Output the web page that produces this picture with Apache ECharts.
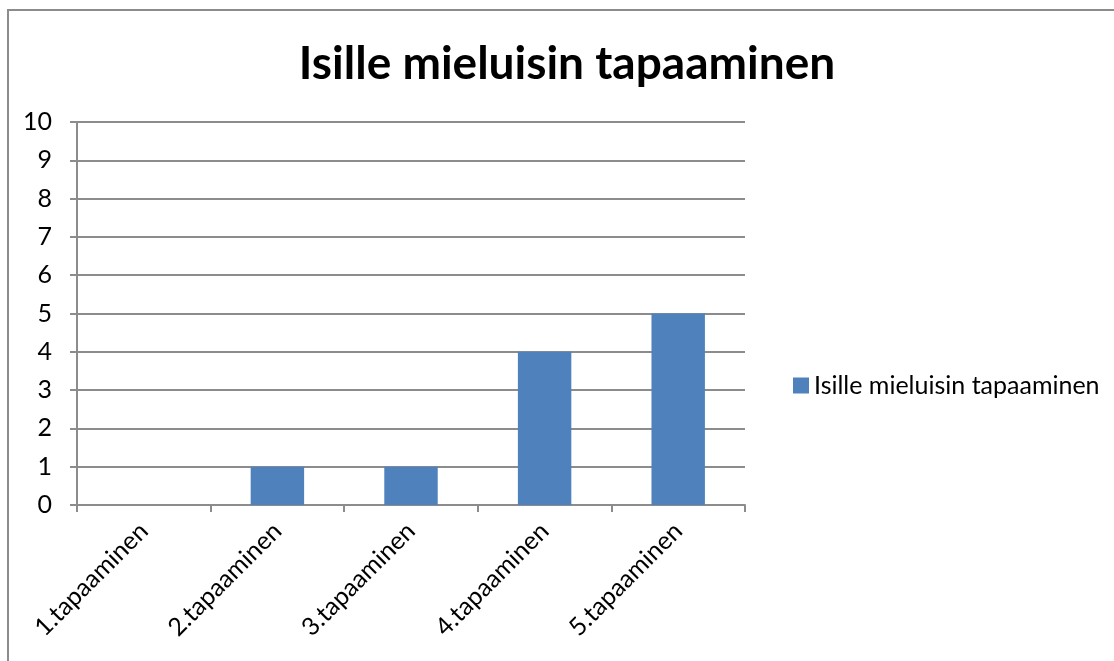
<!DOCTYPE html>
<html>
<head>
<meta charset="utf-8">
<script src="https://cdn.jsdelivr.net/npm/echarts@6/dist/echarts.min.js"></script>
<style>
  html, body { margin: 0; padding: 0; background: #fff; }
  #chart { width: 1114px; height: 661px; }
</style>
</head>
<body>
<div id="chart"></div>
<script>
// chart data
var categories = ['1.tapaaminen', '2.tapaaminen', '3.tapaaminen', '4.tapaaminen', '5.tapaaminen'];
var values = [0, 1, 1, 4, 5];
var seriesName = 'Isille mieluisin tapaaminen';
var titleText = 'Isille mieluisin tapaaminen';
var yTicks = { min: 0, max: 10, interval: 1 };

var font = 'Lato, "Open Sans", sans-serif';
var gray = '#8c8c8c';

var chart = echarts.init(document.getElementById('chart'));
chart.setOption({
  backgroundColor: '#fff',
  animation: false,
  graphic: [{
    type: 'rect',
    shape: { x: 8, y: 10, width: 1300, height: 900 },
    style: { fill: 'none', stroke: gray, lineWidth: 2 }
  }],
  title: {
    text: titleText,
    left: 562,
    textAlign: 'center',
    top: 36,
    textStyle: { fontFamily: font, fontWeight: 'bold', fontSize: 46, color: '#000' }
  },
  legend: {
    left: 788,
    top: 368,
    icon: 'rect',
    itemWidth: 16,
    itemHeight: 16,
    itemGap: 6,
    textStyle: { fontFamily: font, fontSize: 25, color: '#000' },
    data: [seriesName]
  },
  grid: { left: 77, right: 369, top: 122, bottom: 156 },
  xAxis: {
    type: 'category',
    data: categories,
    axisLine: { lineStyle: { color: gray, width: 2 } },
    axisTick: { show: true, length: 7, lineStyle: { color: gray, width: 2 } },
    axisLabel: { rotate: 45, margin: 22, fontFamily: font, fontSize: 25, color: '#000' }
  },
  yAxis: {
    type: 'value',
    min: yTicks.min,
    max: yTicks.max,
    interval: yTicks.interval,
    axisLine: { show: true, lineStyle: { color: gray, width: 2 } },
    axisTick: { show: true, length: 7, lineStyle: { color: gray, width: 2 } },
    axisLabel: { margin: 25, fontFamily: font, fontSize: 25, color: '#000' },
    splitLine: { lineStyle: { color: gray, width: 2 } }
  },
  series: [{
    name: seriesName,
    type: 'bar',
    data: values,
    barCategoryGap: '60%',
    itemStyle: { color: '#4f81bd' }
  }]
});
</script>
</body>
</html>
